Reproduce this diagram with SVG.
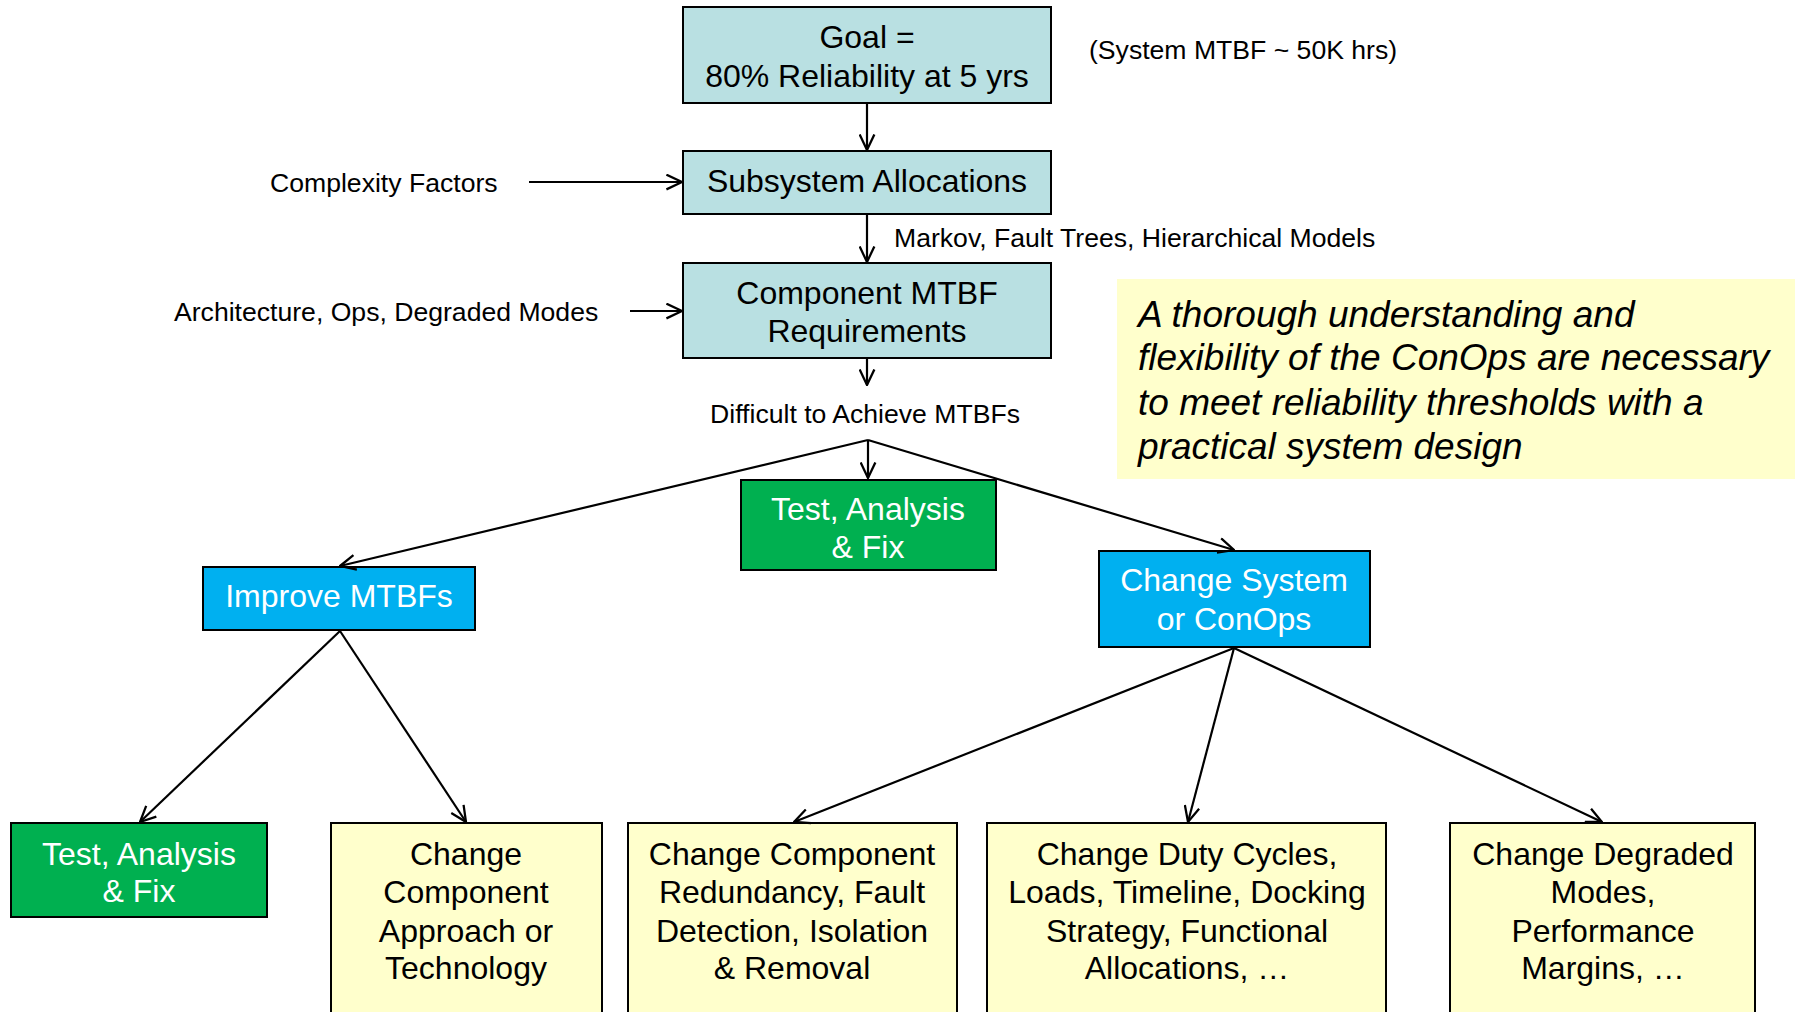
<svg xmlns="http://www.w3.org/2000/svg" width="1795" height="1012" viewBox="0 0 1795 1012">
<style>
text{font-family:"Liberation Sans",Arial,sans-serif;fill:#000}
.t32{font-size:32px;text-anchor:middle}
.w{fill:#fff}
.lbl{font-size:26.6px}
.note{font-size:37px;font-style:italic}
.teal{fill:#B9E0E2;stroke:#000;stroke-width:2}
.green{fill:#00B050;stroke:#000;stroke-width:2}
.blue{fill:#00B0F0;stroke:#000;stroke-width:2}
.yel{fill:#FFFFCC;stroke:#000;stroke-width:2}
.con line{stroke:#000;stroke-width:2.2;marker-end:url(#ah)}
</style>
<defs>
<marker id="ah" viewBox="0 0 12 12" refX="11.5" refY="6" markerWidth="17" markerHeight="17" markerUnits="userSpaceOnUse" orient="auto">
<path d="M0.5,0.8 L11.5,6 L0.5,11.2" fill="none" stroke="#000" stroke-width="1.6"/>
</marker>
</defs>
<rect width="1795" height="1012" fill="#fff"/>

<g id="note">
<rect x="1117" y="279" width="678" height="200" fill="#FFFFCC"/>
<text class="note" x="1138" y="327">A thorough understanding and</text>
<text class="note" x="1138" y="370">flexibility of the ConOps are necessary</text>
<text class="note" x="1138" y="415">to meet reliability thresholds with a</text>
<text class="note" x="1138" y="459">practical system design</text>
</g>

<g id="goal">
<rect class="teal" x="683" y="7" width="368" height="96"/>
<text class="t32" x="867" y="48">Goal =</text>
<text class="t32" x="867" y="87">80% Reliability at 5 yrs</text>
</g>
<g id="system-mtbf"><text class="lbl" x="1089" y="59">(System MTBF ~ 50K hrs)</text></g>

<g id="subsystem">
<rect class="teal" x="683" y="151" width="368" height="63"/>
<text class="t32" x="867" y="192">Subsystem Allocations</text>
</g>
<g id="complexity"><text class="lbl" x="270" y="192">Complexity Factors</text></g>
<g id="markov"><text class="lbl" x="894" y="247">Markov, Fault Trees, Hierarchical Models</text></g>

<g id="component">
<rect class="teal" x="683" y="263" width="368" height="95"/>
<text class="t32" x="867" y="304">Component MTBF</text>
<text class="t32" x="867" y="342">Requirements</text>
</g>
<g id="architecture"><text class="lbl" x="174" y="321">Architecture, Ops, Degraded Modes</text></g>
<g id="difficult"><text class="lbl" x="865" y="423" text-anchor="middle">Difficult to Achieve MTBFs</text></g>

<g id="test-top">
<rect class="green" x="741" y="480" width="255" height="90"/>
<text class="t32 w" x="868" y="520">Test, Analysis</text>
<text class="t32 w" x="868" y="558">&amp; Fix</text>
</g>

<g id="improve">
<rect class="blue" x="203" y="567" width="272" height="63"/>
<text class="t32 w" x="339" y="607">Improve MTBFs</text>
</g>

<g id="change-system">
<rect class="blue" x="1099" y="551" width="271" height="96"/>
<text class="t32 w" x="1234" y="591">Change System</text>
<text class="t32 w" x="1234" y="630">or ConOps</text>
</g>

<g id="test-bottom">
<rect class="green" x="11" y="823" width="256" height="94"/>
<text class="t32 w" x="139" y="865">Test, Analysis</text>
<text class="t32 w" x="139" y="902">&amp; Fix</text>
</g>

<g id="approach">
<rect class="yel" x="331" y="823" width="271" height="200"/>
<text class="t32" x="466" y="865">Change</text>
<text class="t32" x="466" y="903">Component</text>
<text class="t32" x="466" y="942">Approach or</text>
<text class="t32" x="466" y="979">Technology</text>
</g>

<g id="redundancy">
<rect class="yel" x="628" y="823" width="329" height="200"/>
<text class="t32" x="792" y="865">Change Component</text>
<text class="t32" x="792" y="903">Redundancy, Fault</text>
<text class="t32" x="792" y="942">Detection, Isolation</text>
<text class="t32" x="792" y="979">&amp; Removal</text>
</g>

<g id="duty">
<rect class="yel" x="987" y="823" width="399" height="200"/>
<text class="t32" x="1187" y="865">Change Duty Cycles,</text>
<text class="t32" x="1187" y="903">Loads, Timeline, Docking</text>
<text class="t32" x="1187" y="942">Strategy, Functional</text>
<text class="t32" x="1187" y="979">Allocations, …</text>
</g>

<g id="degraded">
<rect class="yel" x="1450" y="823" width="305" height="200"/>
<text class="t32" x="1603" y="865">Change Degraded</text>
<text class="t32" x="1603" y="903">Modes,</text>
<text class="t32" x="1603" y="942">Performance</text>
<text class="t32" x="1603" y="979">Margins, …</text>
</g>

<g id="connectors" class="con">
<line x1="867" y1="103" x2="867" y2="150"/>
<line x1="529" y1="182" x2="682" y2="182"/>
<line x1="867" y1="214" x2="867" y2="262"/>
<line x1="630" y1="311" x2="682" y2="311"/>
<line x1="867" y1="358" x2="867" y2="385"/>
<line x1="868" y1="440" x2="868" y2="478"/>
<line x1="868" y1="440" x2="340" y2="566"/>
<line x1="868" y1="440" x2="1234" y2="550"/>
<line x1="340" y1="631" x2="140" y2="822"/>
<line x1="340" y1="631" x2="466" y2="822"/>
<line x1="1234" y1="648" x2="794" y2="822"/>
<line x1="1234" y1="648" x2="1188" y2="822"/>
<line x1="1234" y1="648" x2="1602" y2="822"/>
</g>
</svg>
